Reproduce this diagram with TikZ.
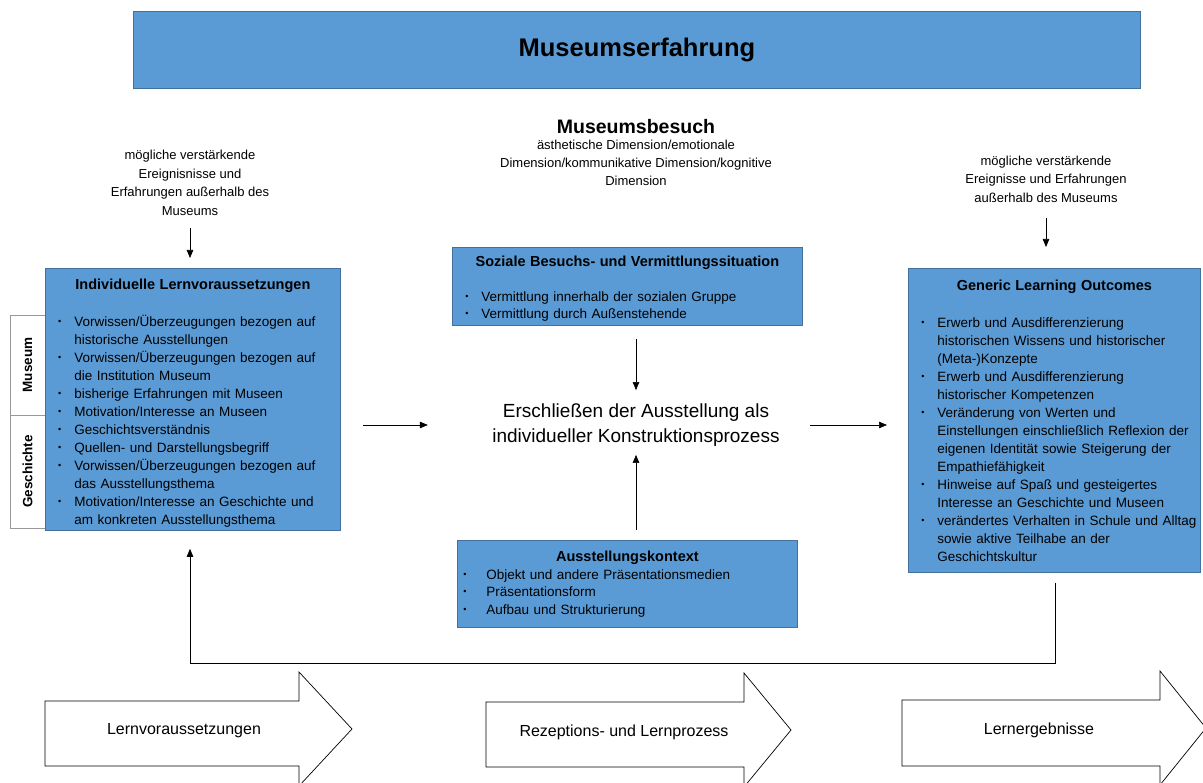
\documentclass[tikz,border=0pt]{standalone}
\usepackage{fontspec}
\setmainfont{Liberation Sans}
\usepackage{enumitem}
\usetikzlibrary{arrows.meta}
\definecolor{kastenblau}{HTML}{5B9BD5}
\definecolor{kastenrand}{HTML}{41719C}
\setlist[itemize]{nosep, leftmargin=26pt, labelsep=13pt, label={\raisebox{2pt}{\fontsize{9}{9}\selectfont\textbullet}}}
\newcommand{\kastenkopf}[2][0pt]{{\centering\bfseries\fontsize{14.5}{18}\selectfont\rule{0pt}{#1}#2\par}}

\begin{document}
\begin{tikzpicture}[x=1pt, y=-1pt,
	kasten/.style={draw=kastenrand, fill=kastenblau, line width=0.8pt, inner xsep=3pt, inner ysep=0pt, align=left, anchor=north west, font=\fontsize{13.5}{18}\selectfont},
	reiter/.style={draw=black!40, fill=white, rotate=90, minimum height=35pt, inner sep=0pt, font=\fontsize{13.5}{16}\selectfont\bfseries},
	hinweis/.style={align=center, font=\fontsize{13}{18.5}\selectfont},
	pfeil/.style={-{Triangle[length=8pt,width=6.5pt]}, line width=0.6pt},
	blockpfeil/.style={draw=black, line width=0.7pt, fill=white},
	etikett/.style={font=\fontsize{16}{18}\selectfont}]

\useasboundingbox (0,0) rectangle (1203,783);

\node[kasten, align=center, minimum width=1007pt, minimum height=77pt, font=\fontsize{25.5}{28}\selectfont\bfseries] (erfahrung) at (133,11) {Museumserfahrung};

\node[font=\fontsize{19.5}{22}\selectfont\bfseries] (besuch) at (636,127) {Museumsbesuch};
\node[hinweis, font=\fontsize{13}{18}\selectfont] (dimension) at (636,163) {ästhetische Dimension/emotionale\\Dimension/kommunikative Dimension/kognitive\\Dimension};

\node[hinweis] (aussenli) at (190,183) {mögliche verstärkende\\Ereignisnisse und\\Erfahrungen außerhalb des\\Museums};
\node[hinweis] (aussenre) at (1046,179) {mögliche verstärkende\\Ereignisse und Erfahrungen\\außerhalb des Museums};

\node[reiter, minimum width=100pt] (museum) at (27.5,365) {Museum};
\node[reiter, minimum width=113pt] (geschichte) at (27.5,471.5) {Geschichte};

\node[kasten, text width=289pt, minimum height=262pt] (lernvor) at (45,268) {
	\kastenkopf[19pt]{Individuelle Lernvoraussetzungen}\vspace{19pt}
	\begin{itemize}
		\item Vorwissen/Überzeugungen bezogen auf\\historische Ausstellungen
		\item Vorwissen/Überzeugungen bezogen auf\\die Institution Museum
		\item bisherige Erfahrungen mit Museen
		\item Motivation/Interesse an Museen
		\item Geschichtsverständnis
		\item Quellen- und Darstellungsbegriff
		\item Vorwissen/Überzeugungen bezogen auf\\das Ausstellungsthema
		\item Motivation/Interesse an Geschichte und\\am konkreten Ausstellungsthema
	\end{itemize}};

\node[kasten, text width=344pt, minimum height=78pt, font=\fontsize{13.5}{17}\selectfont] (sozial) at (452,247) {
	\kastenkopf[16pt]{Soziale Besuchs- und Vermittlungssituation}\vspace{18pt}
	\begin{itemize}
		\item Vermittlung innerhalb der sozialen Gruppe
		\item Vermittlung durch Außenstehende
	\end{itemize}};

\node[font=\fontsize{19}{25}\selectfont, align=center] (erschliessen) at (636,425) {Erschließen der Ausstellung als\\individueller Konstruktionsprozess};

\node[kasten, text width=334pt, minimum height=87pt, font=\fontsize{13.5}{17.5}\selectfont] (kontext) at (457,540) {
	\kastenkopf{Ausstellungskontext}
	\begin{itemize}[labelsep=20pt]
		\item Objekt und andere Präsentationsmedien
		\item Präsentationsform
		\item Aufbau und Strukturierung
	\end{itemize}};

\node[kasten, text width=286pt, minimum height=304pt] (outcomes) at (908,268) {
	\kastenkopf{Generic Learning Outcomes}\vspace{19pt}
	\begin{itemize}
		\item Erwerb und Ausdifferenzierung\\historischen Wissens und historischer\\(Meta-)Konzepte
		\item Erwerb und Ausdifferenzierung\\historischer Kompetenzen
		\item Veränderung von Werten und\\Einstellungen einschließlich Reflexion der\\eigenen Identität sowie Steigerung der\\Empathiefähigkeit
		\item Hinweise auf Spaß und gesteigertes\\Interesse an Geschichte und Museen
		\item verändertes Verhalten in Schule und Alltag\\sowie aktive Teilhabe an der\\Geschichtskultur
	\end{itemize}};

\draw[pfeil, shorten <=9pt, shorten >=10pt] (aussenli.south) -- (aussenli.south |- lernvor.north);
\draw[pfeil, shorten <=12pt, shorten >=21pt] (aussenre.south) -- (aussenre.south |- outcomes.north);
\draw[pfeil, shorten <=13pt, shorten >=10pt] (sozial.south -| erschliessen.north) -- (erschliessen.north);
\draw[pfeil, shorten <=10pt, shorten >=5pt] (kontext.north -| erschliessen.south) -- (erschliessen.south);
\draw[pfeil, shorten <=22pt, shorten >=61pt] (lernvor.east |- erschliessen.west) -- (erschliessen.west);
\draw[pfeil, shorten <=27pt, shorten >=21pt] (erschliessen.east) -- (erschliessen.east -| outcomes.west);

\coordinate (ecke) at (1055,663);
\draw[pfeil, shorten <=10pt, shorten >=18pt] (outcomes.south -| ecke) -- (ecke) -| (lernvor.south -| aussenli.south);

\draw[blockpfeil] (45,701) -- (299,701) -- (299,672) -- (352,729) -- (299,786) -- (299,766) -- (45,766) -- cycle;
\node[etikett] (phase1) at (184,731) {Lernvoraussetzungen};
\draw[blockpfeil] (486,702) -- (744,702) -- (744,673) -- (791,730) -- (744,787) -- (744,767) -- (486,767) -- cycle;
\node[etikett] (phase2) at (624,732) {Rezeptions- und Lernprozess};
\draw[blockpfeil] (902,700) -- (1160,700) -- (1160,671) -- (1206,728) -- (1160,785) -- (1160,766) -- (902,766) -- cycle;
\node[etikett] (phase3) at (1039,730) {Lernergebnisse};
\end{tikzpicture}
\end{document}
